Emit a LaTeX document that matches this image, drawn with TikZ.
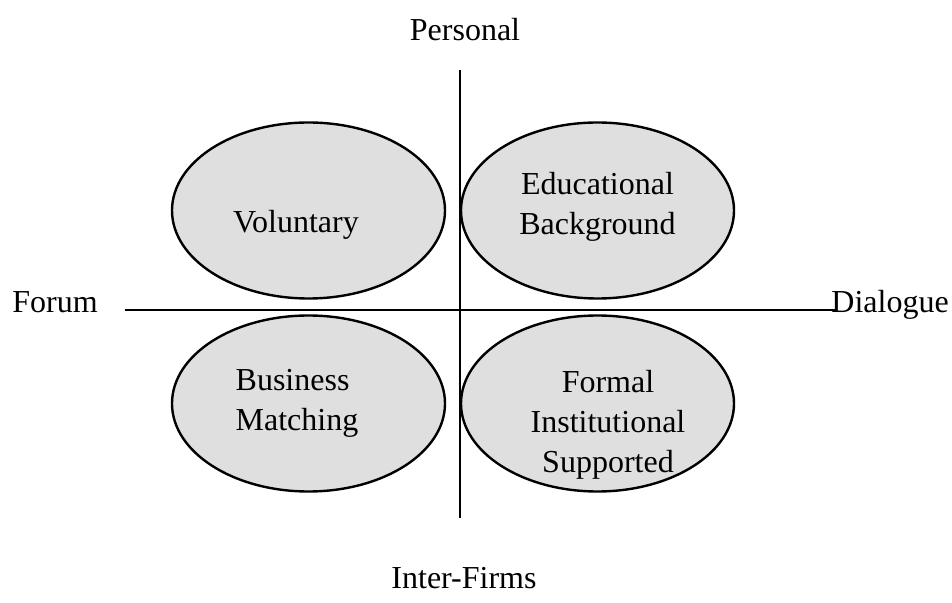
\documentclass[tikz,border=0pt]{standalone}
\usepackage{fontspec}
\setmainfont{Liberation Serif}
\usetikzlibrary{shapes.geometric}

\begin{document}
\begin{tikzpicture}[
  x=0.5pt, y=-0.5pt,
  font=\fontsize{16}{20}\selectfont,
  axis/.style={line width=1.1pt},
  blob/.style={ellipse, draw, line width=1.2pt, fill=black!12.5,
               minimum width=136.5pt, minimum height=88pt},
  word/.style={align=center, inner sep=0pt}
]
\useasboundingbox (0,0) rectangle (952,603);

% axis ends
\coordinate (top) at (460,70);
\coordinate (bot) at (460,518);
\coordinate (lft) at (125,310);
\coordinate (rgt) at (836,310);

\draw[axis] (top) -- (bot);
\draw[axis] (lft) -- (rgt);

% the four quadrants
\node[blob, label={[word, xshift=-6.25pt, yshift=-7.25pt]center:Voluntary}] (vol) at (308.5,210.5) {};
\node[blob, label={[word, yshift=2pt]center:Educational\\Background}] (edu) at (597.5,210.5) {};
\node[blob, label={[word, align=left, xshift=-5.75pt]center:Business\\Matching}] (bus) at (308.5,403.5) {};
\node[blob, label={[word, xshift=5.25pt, yshift=-10.75pt]center:Formal\\Institutional\\Supported}] (frm) at (597.5,403.5) {};

% axis labels
\node[word, anchor=base] (pers) at (465,41) {Personal};
\node[word, anchor=base] (firm) at (464,588) {Inter-Firms};
\node[word, anchor=base] (forum) at (55,313) {Forum};
\node[word, anchor=base west] (dial) at (831,313) {Dialogue};

\end{tikzpicture}
\end{document}
